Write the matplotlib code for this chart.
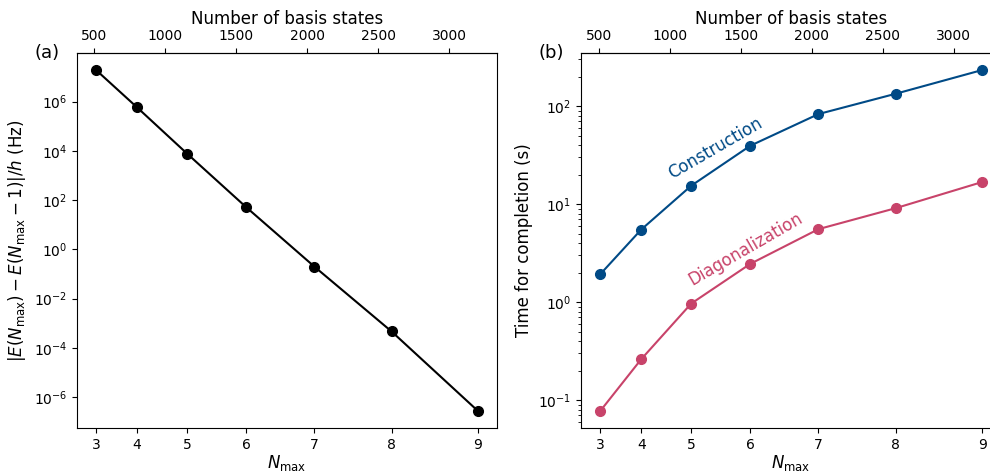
import matplotlib
matplotlib.use("Agg")
import matplotlib.pyplot as plt

# Data
nmax = [3, 4, 5, 6, 7, 8, 9]
basis_states = [512, 800, 1152, 1568, 2048, 2592, 3200]
energy_diff = [1.93e7, 5.9e5, 7.8e3, 52.0, 0.20, 4.6e-4, 2.7e-7]
t_construction = [1.93, 5.5, 15.4, 39.4, 82.9, 133.6, 233.0]
t_diagonalization = [0.0778, 0.262, 0.968, 2.46, 5.56, 9.1, 16.8]
top_ticks = [500, 1000, 1500, 2000, 2500, 3000]

blue = "#004a86"
red = "#c8436a"

fig = plt.figure(figsize=(9.9, 4.73), dpi=100)
W, H = 990, 473
axA = fig.add_axes([77 / W, (H - 428) / H, 420 / W, 375 / H])
axB = fig.add_axes([581.2 / W, (H - 428) / H, 420 / W, 375 / H])

axA.plot(basis_states, energy_diff, "o-", color="black", lw=1.5, ms=7)
axA.set_yscale("log")
axA.set_ylabel(r"$|E(N_{\rm max}) - E(N_{\rm max}-1)|/h$ (Hz)", fontsize=12)

axB.plot(basis_states, t_construction, "o-", color=blue, lw=1.5, ms=7)
axB.plot(basis_states, t_diagonalization, "o-", color=red, lw=1.5, ms=7)
axB.set_yscale("log")
axB.set_ylabel("Time for completion (s)", fontsize=12)
axB.text(1319, 36.7, "Construction", color=blue, fontsize=12, rotation=30,
         ha="center", va="center", rotation_mode="anchor")
axB.text(1534, 3.5, "Diagonalization", color=red, fontsize=12, rotation=30,
         ha="center", va="center", rotation_mode="anchor")

for ax, lab in ((axA, "(a)"), (axB, "(b)")):
    ax.set_xticks(basis_states, [str(n) for n in nmax])
    ax.set_xlabel(r"$N_{\rm max}$", fontsize=12, labelpad=1)
    ax.tick_params(labelsize=10)
    sec = ax.secondary_xaxis("top")
    sec.set_xticks(top_ticks)
    sec.tick_params(labelsize=10)
    sec.set_xlabel("Number of basis states", fontsize=12)
    ax.text(-0.072, 1.0, lab, transform=ax.transAxes, fontsize=13,
            ha="center", va="center")

fig.savefig("out.png", dpi=100)
